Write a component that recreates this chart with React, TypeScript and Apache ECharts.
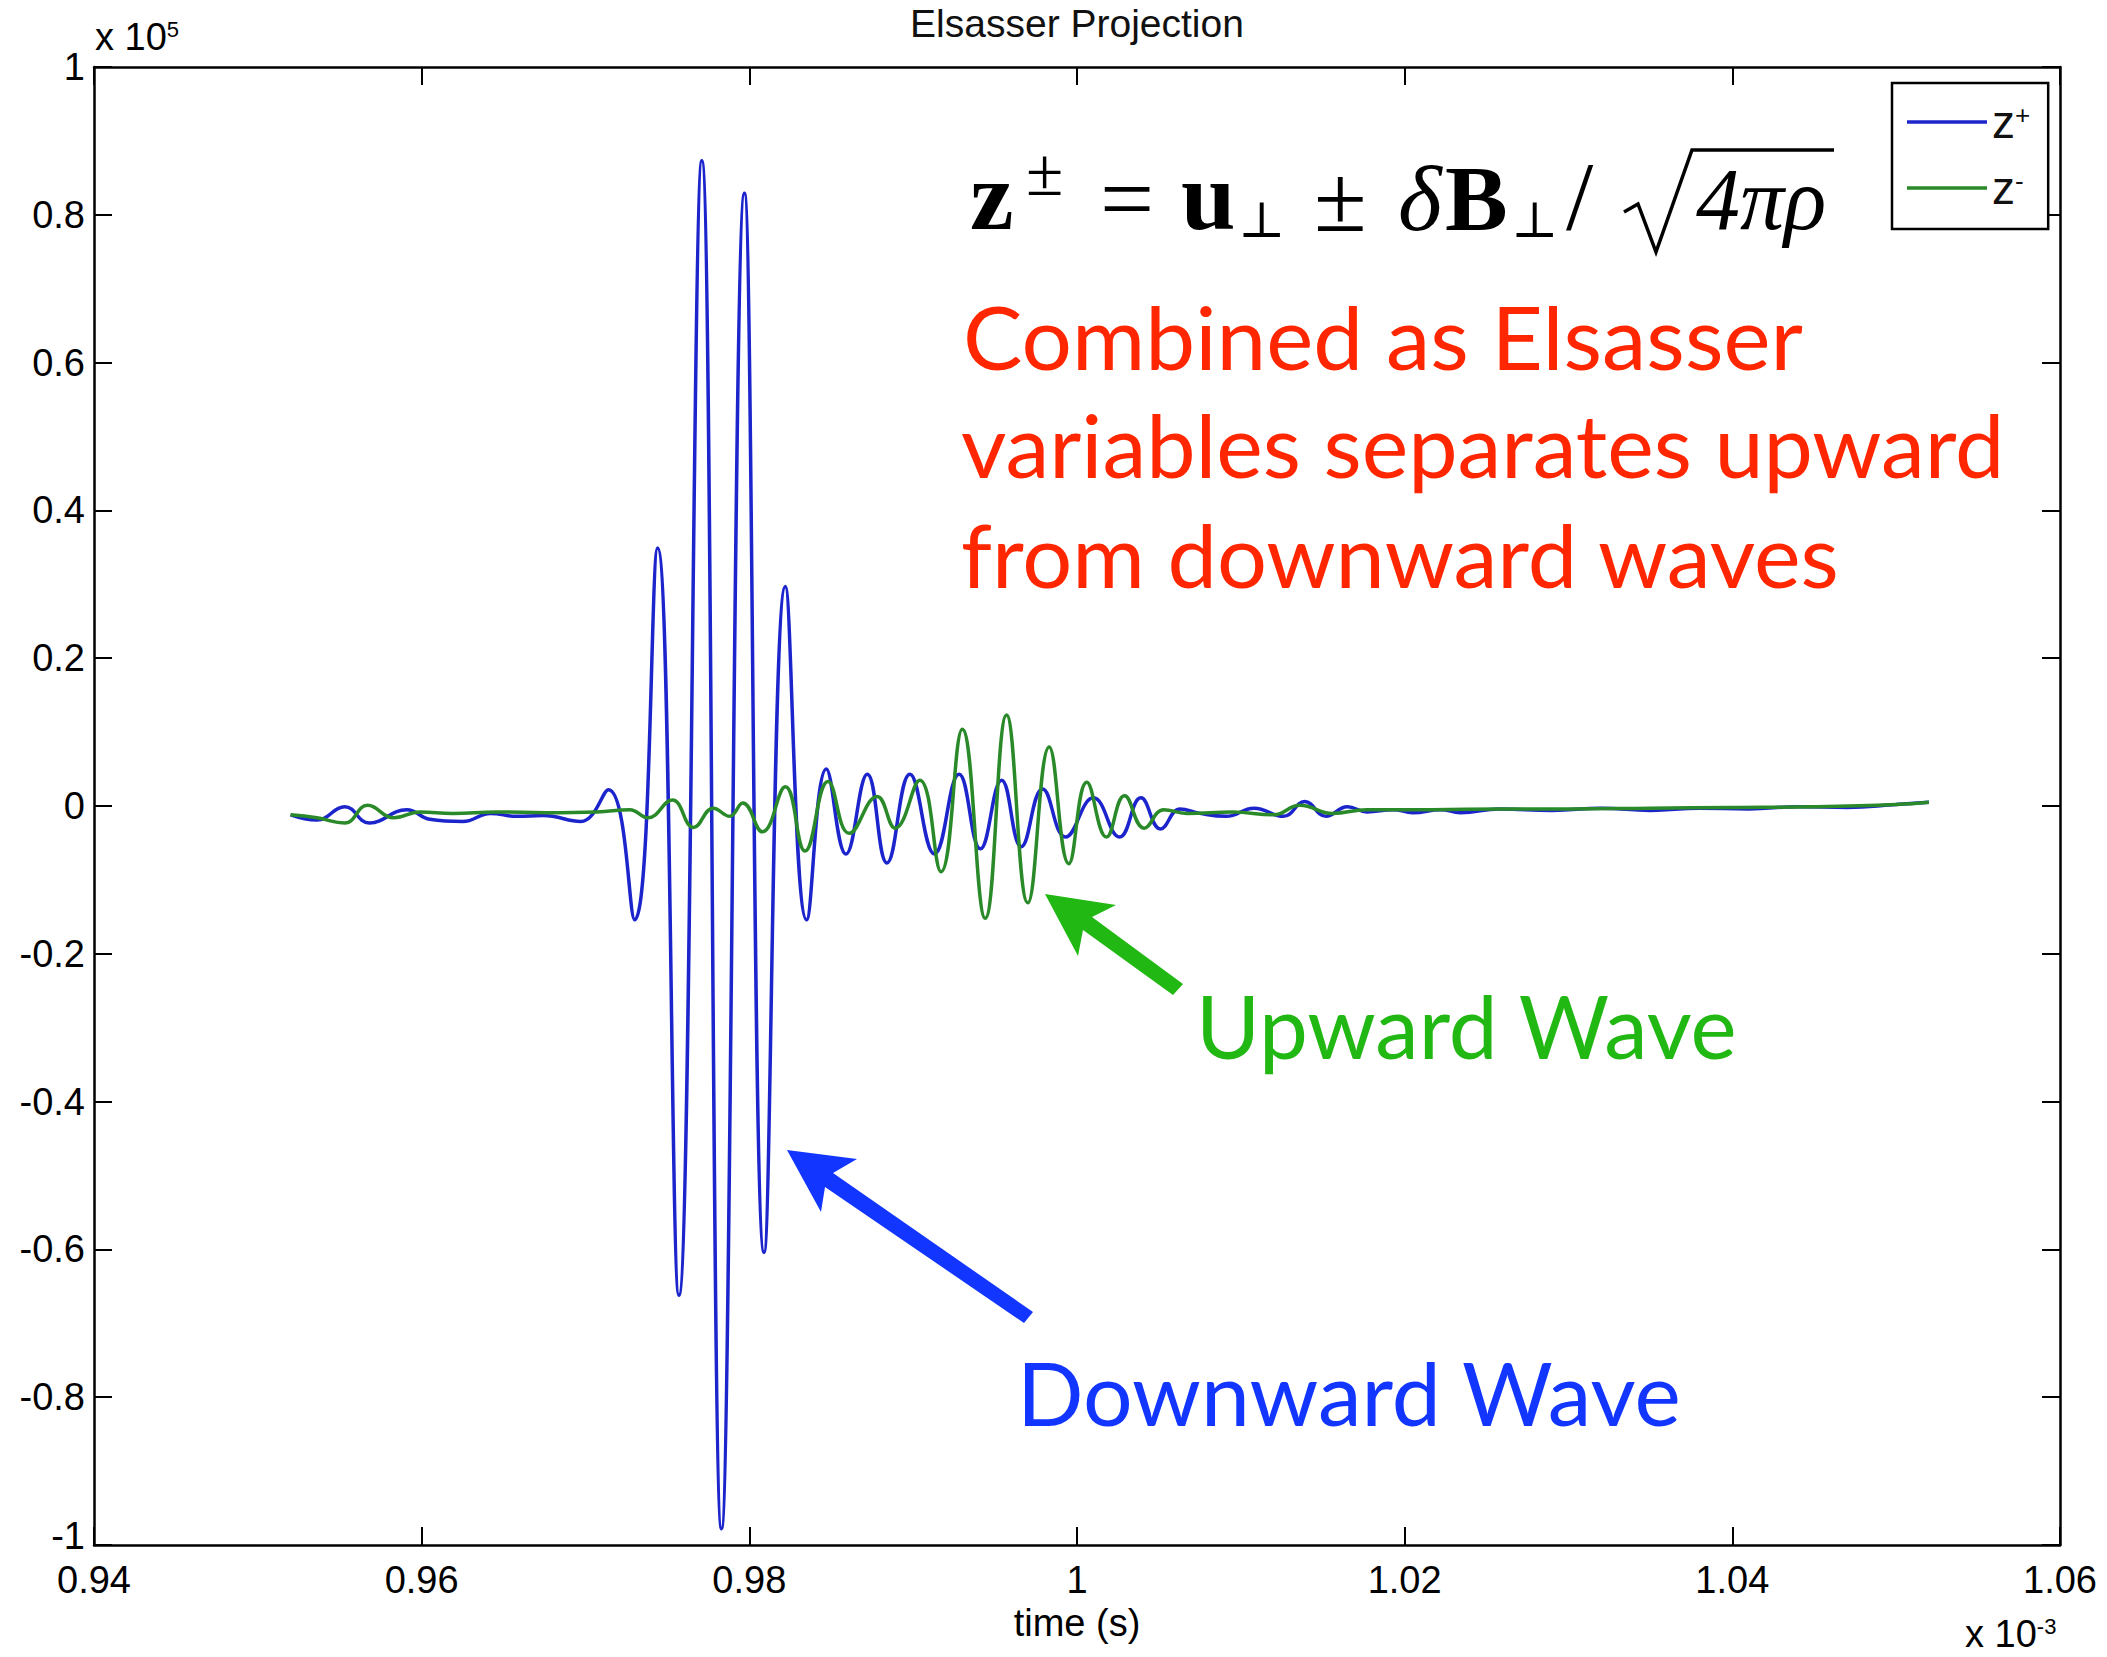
import React, { useEffect, useRef } from "react";
import * as echarts from "echarts";

// ---- Axis ticks ----
const xTicks = [0.94, 0.96, 0.98, 1, 1.02, 1.04, 1.06]; // x 10^-3 s
const yTicks = [-1, -0.8, -0.6, -0.4, -0.2, 0, 0.2, 0.4, 0.6, 0.8, 1]; // x 10^5

// ---- Series names ----
const seriesNames = ["z+", "z-"];

// ---- z+ (downward wave, blue) ----
const zPlusTime = [
  0.952, 0.9536, 0.9553, 0.9568, 0.9591, 0.9605, 0.9625, 0.9642, 0.9658, 0.9674,
  0.9697, 0.9714, 0.973, 0.9744, 0.9757, 0.9771, 0.9783, 0.9797, 0.9809, 0.9822,
  0.9835, 0.9847, 0.9859, 0.9872, 0.9884, 0.9898, 0.9913, 0.9928, 0.9941, 0.9954,
  0.9966, 0.9979, 0.9993, 1.001, 1.0026, 1.0039, 1.0051, 1.0063, 1.0075, 1.0091,
  1.0108, 1.0126, 1.0139, 1.0152, 1.0165, 1.0177, 1.0193, 1.0205, 1.0222, 1.0234,
  1.0258, 1.029, 1.032, 1.035, 1.038, 1.041, 1.044, 1.047, 1.05, 1.052,
];
const zPlusValue = [
  -0.012, -0.019, -0.001, -0.023, -0.005, -0.018, -0.021, -0.01, -0.014, -0.013,
  -0.021, 0.022, -0.154, 0.349, -0.662, 0.873, -0.978, 0.829, -0.604, 0.297,
  -0.154, 0.05, -0.065, 0.043, -0.077, 0.043, -0.065, 0.043, -0.058, 0.035,
  -0.055, 0.023, -0.042, 0.011, -0.042, 0.011, -0.031, -0.004, -0.01, -0.014,
  -0.003, -0.014, 0.006, -0.014, -0.001, -0.008, -0.005, -0.009, -0.005, -0.009,
  -0.004, -0.006, -0.003, -0.006, -0.003, -0.004, -0.001, -0.002, 0.002, 0.005,
];

// ---- z- (upward wave, green) ----
const zMinusTime = [
  0.952, 0.9536, 0.9553, 0.9567, 0.9583, 0.9599, 0.9619, 0.9646, 0.9676, 0.9707,
  0.9727, 0.9738, 0.9753, 0.9766, 0.9778, 0.9788, 0.9796, 0.9808, 0.9822, 0.9834,
  0.9848, 0.9861, 0.9878, 0.9889, 0.9904, 0.9917, 0.993, 0.9944, 0.9957, 0.997,
  0.9983, 0.9995, 1.0006, 1.0018, 1.0029, 1.0041, 1.0053, 1.0067, 1.0095, 1.012,
  1.0136, 1.0156, 1.0177, 1.0217, 1.0258, 1.03, 1.035, 1.04, 1.045, 1.05, 1.052,
];
const zMinusValue = [
  -0.012, -0.016, -0.023, 0.001, -0.016, -0.008, -0.01, -0.008, -0.009, -0.008,
  -0.005, -0.016, 0.008, -0.029, -0.003, -0.014, 0.004, -0.035, 0.026, -0.061,
  0.033, -0.037, 0.013, -0.03, 0.035, -0.089, 0.104, -0.152, 0.123, -0.131,
  0.08, -0.078, 0.032, -0.042, 0.014, -0.03, -0.005, -0.01, -0.008, -0.012,
  0.001, -0.01, -0.005, -0.005, -0.004, -0.004, -0.003, -0.002, -0.001, 0.002, 0.005,
];

// ---- Annotation texts ----
const titleText = "Elsasser Projection";
const xAxisTitle = "time (s)";
const noteLines = [
  "Combined as Elsasser",
  "variables separates upward",
  "from downward waves",
];
const upwardLabel = "Upward Wave";
const downwardLabel = "Downward Wave";

const BLUE = "#1c24cc";
const GREEN = "#2a8a2a";
const RED = "#ff2600";
const ARROW_BLUE = "#1236ff";
const ARROW_GREEN = "#22b814";
const SANS = '"Liberation Sans", Arial, Helvetica, sans-serif';
const SERIF = '"Liberation Serif", "DejaVu Serif", serif';
const HUMANIST = 'Lato, "Open Sans", sans-serif';

function measure(text: string, font: string): number {
  const c = document.createElement("canvas").getContext("2d");
  if (!c) return 1;
  c.font = font;
  return c.measureText(text).width || 1;
}

const fmt = (v: number) => String(Number(v.toFixed(2)));

function fittedText(text: string, x: number, y: number, size: number, targetW: number, color: string) {
  const w = measure(text, `${size}px ${HUMANIST}`);
  return {
    type: "text",
    x,
    y,
    scaleX: targetW / w,
    style: {
      text,
      fontSize: size,
      fontFamily: HUMANIST,
      fill: color,
      align: "left",
      verticalAlign: "middle",
    },
  };
}

function formulaText(text: string, x: number, y: number, size: number, weight: string, style: string) {
  return {
    type: "text",
    x,
    y,
    style: {
      text,
      fontSize: size,
      fontFamily: SERIF,
      fontWeight: weight,
      fontStyle: style,
      fill: "#000",
      align: "left",
      verticalAlign: "middle",
    },
  };
}

export default function App() {
  const ref = useRef<HTMLDivElement>(null);

  useEffect(() => {
    if (!ref.current) return;
    const chart = echarts.init(ref.current, undefined, { renderer: "svg" });

    const xMin = xTicks[0];
    const xMax = xTicks[xTicks.length - 1];
    const yMin = yTicks[0];
    const yMax = yTicks[yTicks.length - 1];

    const axisLine = { show: true, onZero: false, lineStyle: { color: "#000", width: 2.5 } };
    const axisTick = { show: true, inside: true, length: 18, lineStyle: { color: "#000", width: 2 } };
    const supRich = {
      a: { fontSize: 38, fontFamily: SANS, lineHeight: 38, fill: "#000" },
      s: { fontSize: 22, fontFamily: SANS, lineHeight: 22, verticalAlign: "top", fill: "#000" },
    };

    const graphic: any[] = [
      // exponent labels
      { type: "text", x: 95, y: 18, style: { text: "{a|x 10}{s|5}", fill: "#000", rich: supRich } },
      { type: "text", x: 1965, y: 1615, style: { text: "{a|x 10}{s|-3}", fill: "#000", rich: supRich } },
      // formula z± = u⊥ ± δB⊥/√(4πρ)
      formulaText("z", 970, 196, 98, "bold", "normal"),
      formulaText("±", 1026, 172, 68, "normal", "normal"),
      formulaText("=", 1100, 198, 96, "normal", "normal"),
      formulaText("u", 1181, 196, 98, "bold", "normal"),
      formulaText("⊥", 1238, 220, 50, "normal", "normal"),
      formulaText("±", 1314, 198, 96, "normal", "normal"),
      formulaText("δ", 1398, 198, 94, "normal", "italic"),
      formulaText("B", 1445, 198, 94, "bold", "normal"),
      formulaText("⊥", 1511, 220, 50, "normal", "normal"),
      formulaText("/", 1566, 196, 98, "normal", "normal"),
      {
        type: "polyline",
        shape: { points: [[1624, 212], [1638, 204], [1656, 252], [1692, 150], [1834, 150]] },
        style: { stroke: "#000", lineWidth: 3.5, fill: null },
      },
      formulaText("4πρ", 1696, 199, 88, "normal", "italic"),
      // red annotation
      fittedText(noteLines[0], 963, 336, 88, 840, RED),
      fittedText(noteLines[1], 961, 444, 88, 1044, RED),
      fittedText(noteLines[2], 961, 554, 88, 880, RED),
      // wave labels
      fittedText(upwardLabel, 1196, 1025, 88, 542, ARROW_GREEN),
      fittedText(downwardLabel, 1017, 1392, 88, 665, ARROW_BLUE),
      // arrows
      {
        type: "polygon",
        shape: { points: [[1045, 894], [1116, 905], [1092, 917], [1183, 984], [1173, 995], [1083, 930], [1078, 956]] },
        style: { fill: ARROW_GREEN },
      },
      {
        type: "polygon",
        shape: { points: [[787, 1150], [857, 1159], [833, 1173], [1033, 1312], [1024, 1323], [825, 1187], [821, 1212]] },
        style: { fill: ARROW_BLUE },
      },
    ];

    chart.setOption({
      animation: false,
      backgroundColor: "#fff",
      title: {
        text: titleText,
        left: 1077,
        top: 4,
        padding: 0,
        textAlign: "center",
        textStyle: { fontSize: 39, fontWeight: "normal", fontFamily: SANS, color: "#111" },
      },
      legend: {
        orient: "vertical",
        left: 1892,
        top: 83,
        padding: [16, 18, 18, 15],
        itemGap: 20,
        itemWidth: 80,
        itemHeight: 3.5,
        icon: "rect",
        borderColor: "#000",
        borderWidth: 2.5,
        backgroundColor: "#fff",
        data: seriesNames,
        formatter: (name: string) => `{z|z}{s|${name.slice(1)}}`,
        textStyle: {
          color: "#000",
          rich: {
            z: { fontSize: 46, fontFamily: SANS, lineHeight: 40, color: "#111" },
            s: { fontSize: 26, fontFamily: SANS, lineHeight: 24, verticalAlign: "top", color: "#111" },
          },
        },
      },
      grid: { left: 94, right: 47, top: 67, bottom: 112, containLabel: false },
      xAxis: [
        {
          type: "value",
          position: "bottom",
          min: xMin,
          max: xMax,
          interval: 0.02,
          name: xAxisTitle,
          nameLocation: "middle",
          nameGap: 48,
          nameTextStyle: { fontSize: 38, fontFamily: SANS, color: "#000" },
          axisLine,
          axisTick,
          splitLine: { show: false },
          axisLabel: { fontSize: 38, lineHeight: 32, fontFamily: SANS, color: "#000", margin: 19, formatter: fmt },
        },
        {
          type: "value",
          position: "top",
          min: xMin,
          max: xMax,
          interval: 0.02,
          axisLine,
          axisTick,
          splitLine: { show: false },
          axisLabel: { show: false },
        },
      ],
      yAxis: [
        {
          type: "value",
          position: "left",
          min: yMin,
          max: yMax,
          interval: 0.2,
          axisLine,
          axisTick,
          splitLine: { show: false },
          axisLabel: {
            fontSize: 38,
            lineHeight: 28,
            fontFamily: SANS,
            color: "#000",
            margin: 9,
            formatter: (v: number) => (Math.abs(v - yMin) < 1e-9 ? `{m|${fmt(v)}}` : fmt(v)),
            rich: {
              m: { fontSize: 38, lineHeight: 28, fontFamily: SANS, color: "#000", padding: [0, 0, 18, 0] },
            },
          },
        },
        {
          type: "value",
          position: "right",
          min: yMin,
          max: yMax,
          interval: 0.2,
          axisLine,
          axisTick,
          splitLine: { show: false },
          axisLabel: { show: false },
        },
      ],
      series: [
        {
          name: seriesNames[0],
          type: "line",
          xAxisIndex: 0,
          yAxisIndex: 0,
          data: zPlusTime.map((t, i) => [t, zPlusValue[i]]),
          smooth: 0.45,
          symbol: "none",
          lineStyle: { color: BLUE, width: 3.5 },
          itemStyle: { color: BLUE },
          z: 2,
        },
        {
          name: seriesNames[1],
          type: "line",
          xAxisIndex: 0,
          yAxisIndex: 0,
          data: zMinusTime.map((t, i) => [t, zMinusValue[i]]),
          smooth: 0.45,
          symbol: "none",
          lineStyle: { color: GREEN, width: 3.5 },
          itemStyle: { color: GREEN },
          z: 3,
        },
      ],
      graphic,
    });

    return () => chart.dispose();
  }, []);

  return (
    <div
      ref={ref}
      style={{ position: "absolute", left: 0, top: 0, width: 2107, height: 1657, background: "#fff" }}
    />
  );
}
